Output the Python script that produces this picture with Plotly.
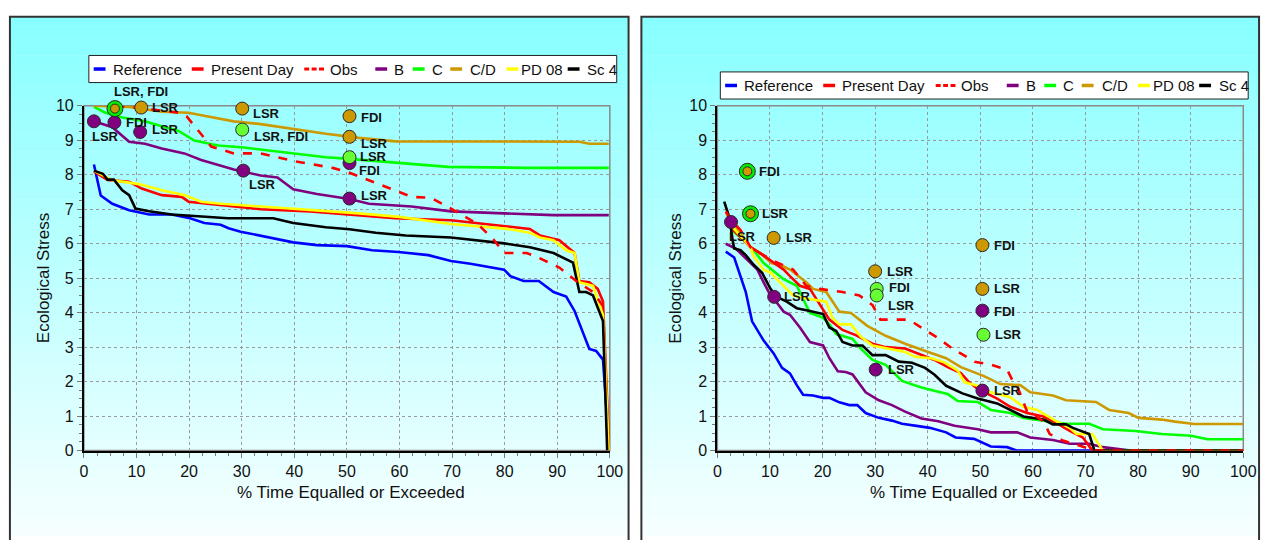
import plotly.graph_objects as go

W, H = 1276, 540

# ---------------- left panel: duration curves ----------------
L_REF_X = [1.9, 3.2, 5.4, 8.6, 12.4, 16.7, 19.9, 22.9, 26.0, 27.5, 29.8, 34.9, 39.8, 44.3, 50.0, 54.8,
           59.8, 65.5, 69.8, 73.5, 77.3, 79.9, 81.1, 83.6, 86.5, 89.3, 91.7, 93.3, 96.1, 97.4, 98.7, 99.9]
L_REF_Y = [8.3, 7.4, 7.16, 6.97, 6.85, 6.85, 6.75, 6.6, 6.55, 6.45, 6.35, 6.2, 6.04, 5.96, 5.93, 5.81,
           5.76, 5.67, 5.5, 5.42, 5.31, 5.25, 5.06, 4.92, 4.92, 4.6, 4.47, 4.05, 2.95, 2.89, 2.64, 0.0]

L_PD_X = [1.9, 4.5, 8.6, 11.0, 14.8, 18.6, 19.9, 26.1, 33.6, 43.0, 50.5, 59.2, 69.8, 79.2, 84.8, 86.7,
          90.4, 93.3, 94.2, 96.1, 97.7, 98.7, 99.9]
L_PD_Y = [8.1, 7.85, 7.8, 7.6, 7.41, 7.36, 7.22, 7.13, 7.0, 6.94, 6.85, 6.74, 6.68, 6.52, 6.43, 6.24,
          6.1, 5.73, 4.92, 4.88, 4.69, 4.33, 0.0]

L_PD08_X = [1.9, 5.4, 10.5, 14.8, 19.1, 22.3, 26.1, 33.6, 43.0, 52.3, 60.0, 69.8, 80.5, 84.8, 86.7,
            89.3, 91.7, 93.3, 94.2, 96.8, 98.7, 99.8]
L_PD08_Y = [8.12, 7.84, 7.73, 7.55, 7.41, 7.22, 7.16, 7.08, 7.0, 6.88, 6.78, 6.57, 6.43, 6.32, 6.18,
            6.1, 5.81, 5.73, 4.88, 4.78, 3.93, 0.0]

L_SC4_X = [1.9, 3.6, 4.5, 5.7, 7.3, 8.6, 9.8, 12.4, 16.7, 21.0, 27.4, 36.0, 39.8, 46.0, 50.5, 55.5,
           61.2, 69.8, 74.9, 79.9, 84.8, 89.3, 93.0, 94.2, 95.5, 96.8, 98.7, 99.5]
L_SC4_Y = [8.12, 8.03, 7.86, 7.86, 7.55, 7.41, 7.02, 6.94, 6.85, 6.8, 6.74, 6.74, 6.6, 6.48, 6.42, 6.32,
           6.24, 6.18, 6.1, 6.01, 5.9, 5.73, 5.45, 4.6, 4.6, 4.5, 3.76, 0.0]

L_OBS_X = [6.0, 10.5, 18.0, 19.5, 24.2, 28.5, 33.6, 39.8, 47.3, 50.5, 56.1, 62.3, 66.0, 69.8, 74.9,
           78.0, 79.9, 84.2, 86.1, 90.4, 93.6, 96.8, 99.6]
L_OBS_Y = [10.0, 9.94, 9.8, 9.7, 8.82, 8.62, 8.62, 8.4, 8.2, 8.06, 7.73, 7.36, 7.33, 7.02, 6.57,
           6.1, 5.73, 5.73, 5.62, 5.31, 4.92, 4.6, 4.0]

L_B_X = [1.9, 5.4, 8.6, 11.6, 14.8, 19.1, 22.3, 25.5, 28.5, 33.6, 36.8, 39.8, 44.3, 50.5, 54.2, 62.3,
         69.8, 79.9, 89.3, 99.8]
L_B_Y = [9.55, 9.38, 8.96, 8.9, 8.76, 8.62, 8.43, 8.29, 8.15, 7.98, 7.92, 7.58, 7.44, 7.3, 7.16, 7.08,
         6.94, 6.88, 6.83, 6.83]

L_C_X = [1.9, 4.1, 7.3, 11.6, 14.8, 18.0, 21.0, 25.5, 30.4, 34.9, 39.8, 46.0, 50.5, 55.5, 59.2, 69.2,
         84.2, 99.8]
L_C_Y = [9.97, 9.8, 9.66, 9.55, 9.41, 9.27, 8.99, 8.85, 8.79, 8.71, 8.62, 8.51, 8.46, 8.4, 8.34, 8.23,
         8.2, 8.2]

L_CD_X = [1.8, 8.6, 14.8, 19.9, 23.6, 28.5, 33.6, 39.8, 46.0, 52.3, 59.2, 94.2, 96.1, 99.8]
L_CD_Y = [10.0, 9.97, 9.83, 9.8, 9.69, 9.55, 9.47, 9.33, 9.19, 9.07, 8.97, 8.96, 8.9, 8.9]

# left panel point assessments
L_MK_X = [5.9, 10.9, 1.9, 5.8, 10.7, 30.1, 30.1, 30.3, 50.5, 50.5, 50.5, 50.5, 50.5]
L_MK_Y = [9.92, 9.95, 9.55, 9.52, 9.24, 9.92, 9.31, 8.12, 9.7, 9.1, 8.51, 8.34, 7.31]
L_MK_KIND = ["C+C/D", "C/D", "B", "B", "B", "C/D", "C", "B", "C/D", "C/D", "C", "B", "B"]
L_MK_TEXT = ["LSR, FDI", "LSR", "LSR", "FDI", "LSR", "LSR", "LSR, FDI", "LSR", "FDI", "LSR", "LSR", "FDI", "LSR"]

# ---------------- right panel: duration curves ----------------
R_REF_X = [1.6, 3.2, 5.4, 6.6, 8.8, 10.7, 12.3, 13.8, 15.1, 16.3, 18.2, 20.1, 21.3, 23.2, 25.1, 26.6,
           28.2, 30.7, 33.2, 35.1, 38.2, 40.4, 43.5, 45.3, 48.8, 52.0, 55.1, 57.0, 100]
R_REF_Y = [5.77, 5.6, 4.6, 3.75, 3.19, 2.82, 2.4, 2.24, 1.9, 1.62, 1.6, 1.53, 1.53, 1.4, 1.32, 1.32,
           1.09, 0.95, 0.87, 0.78, 0.71, 0.66, 0.53, 0.38, 0.34, 0.12, 0.1, 0.0, 0.0]

R_PD_X = [1.9, 2.9, 4.4, 6.3, 8.2, 10.7, 12.6, 13.8, 15.7, 17.6, 19.5, 21.3, 23.8, 26.3, 29.5, 32.0,
          35.7, 38.2, 41.3, 43.8, 46.3, 47.9, 49.5, 53.2, 55.7, 58.9, 62.0, 64.5, 67.0, 69.5, 71.3, 100]
R_PD_Y = [6.8, 6.42, 6.19, 5.9, 5.72, 5.44, 5.25, 5.06, 4.78, 4.69, 4.25, 3.8, 3.5, 3.35, 3.1, 3.0,
          2.96, 2.82, 2.63, 2.42, 2.25, 1.98, 1.79, 1.51, 1.27, 1.09, 0.99, 0.8, 0.57, 0.38, 0.0, 0.0]

R_PD08_X = [1.9, 4.1, 6.3, 6.9, 8.8, 10.1, 12.6, 14.4, 16.9, 20.7, 21.9, 23.2, 25.4, 27.3, 29.5, 32.6,
            35.7, 37.6, 40.7, 43.2, 45.7, 47.0, 49.5, 52.0, 55.7, 58.2, 60.8, 64.5, 67.0, 68.3, 71.3, 73.3, 100]
R_PD08_Y = [6.65, 6.29, 5.9, 5.63, 5.25, 5.16, 4.78, 4.5, 4.41, 4.32, 3.85, 3.66, 3.66, 3.3, 3.05, 2.96,
            2.86, 2.72, 2.68, 2.56, 2.32, 1.98, 1.88, 1.69, 1.55, 1.27, 1.18, 0.85, 0.66, 0.48, 0.48, 0.0, 0.0]

R_SC4_X = [1.3, 2.3, 2.9, 3.2, 4.4, 5.4, 6.9, 8.5, 10.1, 11.3, 13.2, 15.1, 17.6, 20.1, 21.3, 22.6,
           23.8, 25.7, 27.6, 29.5, 32.0, 34.5, 37.0, 39.5, 41.3, 43.5, 46.6, 49.5, 53.2, 55.7, 58.2,
           62.0, 63.8, 66.3, 67.6, 70.7, 71.7, 100]
R_SC4_Y = [7.22, 6.75, 6.1, 5.86, 5.81, 5.67, 5.39, 5.16, 4.69, 4.46, 4.32, 4.13, 4.05, 3.96, 3.57, 3.47,
           3.15, 3.05, 3.05, 2.77, 2.77, 2.58, 2.55, 2.4, 2.2, 1.88, 1.66, 1.51, 1.37, 1.18, 0.99,
           0.9, 0.76, 0.76, 0.66, 0.48, 0.0, 0.0]

R_OBS_X = [1.6, 2.8, 4.4, 6.3, 8.2, 10.7, 14.4, 16.9, 19.5, 23.8, 27.0, 29.5, 31.0, 36.4, 39.5, 42.0,
           44.5, 48.9, 52.0, 55.1, 56.3, 57.0, 58.9, 60.1, 62.0, 63.2, 65.7, 70.1, 72.0, 100]
R_OBS_Y = [6.94, 6.65, 6.4, 5.9, 5.72, 5.5, 5.25, 4.78, 4.69, 4.6, 4.5, 4.22, 3.8, 3.8, 3.5, 3.26,
           2.98, 2.58, 2.49, 2.35, 1.98, 1.88, 1.13, 1.04, 0.85, 0.48, 0.29, 0.1, 0.0, 0.0]

R_B_X = [1.6, 3.5, 5.7, 7.6, 8.8, 10.1, 10.7, 12.6, 13.8, 15.7, 17.6, 20.1, 21.3, 22.9, 24.4, 25.7,
         28.2, 30.7, 33.2, 35.7, 38.8, 42.0, 45.1, 49.5, 52.0, 57.0, 59.5, 63.8, 67.0, 70.7, 73.3, 78.2, 80.0, 100]
R_B_Y = [6.0, 5.86, 5.53, 5.25, 4.88, 4.5, 4.41, 4.03, 3.94, 3.57, 3.15, 3.05, 2.68, 2.3, 2.28, 2.21,
         1.69, 1.46, 1.32, 1.13, 0.93, 0.85, 0.72, 0.62, 0.53, 0.53, 0.38, 0.31, 0.2, 0.2, 0.1, 0.01, 0.0, 0.0]

R_C_X = [1.6, 3.2, 5.1, 6.9, 8.8, 10.7, 12.6, 15.1, 16.3, 17.6, 19.5, 20.1, 21.3, 22.6, 25.7, 27.6,
         29.5, 32.0, 35.1, 38.8, 42.0, 43.8, 45.7, 49.5, 52.0, 55.7, 58.2, 60.8, 66.3, 70.7, 73.3, 79.5,
         84.5, 90.1, 93.2, 100]
R_C_Y = [6.65, 6.33, 6.1, 5.81, 5.44, 5.2, 4.97, 4.78, 4.41, 3.99, 3.89, 3.85, 3.66, 3.38, 3.24, 2.91,
         2.63, 2.49, 2.02, 1.83, 1.71, 1.64, 1.44, 1.41, 1.18, 1.09, 0.95, 0.9, 0.78, 0.78, 0.62, 0.57,
         0.48, 0.43, 0.33, 0.33]

R_CD_X = [1.6, 4.4, 6.3, 8.2, 10.3, 12.6, 13.8, 16.9, 18.2, 20.7, 23.2, 25.4, 27.0, 28.5, 32.0, 35.7,
          40.1, 43.5, 46.3, 50.7, 53.8, 57.6, 59.5, 63.8, 66.3, 72.0, 74.5, 78.2, 80.1, 84.5, 87.0, 90.7, 100]
R_CD_Y = [6.9, 6.3, 5.9, 5.72, 5.44, 5.34, 5.25, 4.88, 4.69, 4.6, 4.03, 3.99, 3.8, 3.62, 3.33, 3.1,
          2.86, 2.68, 2.42, 2.16, 1.93, 1.9, 1.69, 1.6, 1.46, 1.41, 1.18, 1.09, 0.95, 0.9, 0.84, 0.77, 0.77]

# right panel point assessments
R_MK_X = [5.7, 6.3, 2.6, 10.7, 10.8, 30.0, 30.3, 30.3, 30.1, 50.4, 50.4, 50.4, 50.6, 50.4]
R_MK_Y = [8.1, 6.87, 6.63, 6.17, 4.46, 5.2, 4.69, 4.5, 2.35, 5.96, 4.69, 4.06, 3.36, 1.74]
R_MK_KIND = ["C+C/D", "C+C/D", "B", "C/D", "B", "C/D", "C", "C", "B", "C/D", "C/D", "B", "C", "B"]
R_MK_TEXT = ["FDI", "LSR", "LSR", "LSR", "LSR", "LSR", "FDI", "LSR", "LSR", "FDI", "LSR", "FDI", "LSR", "LSR"]

SERIES_NAMES = ["Reference", "Present Day", "Obs", "B", "C", "C/D", "PD 08", "Sc 4"]
X_TICKS = [0, 10, 20, 30, 40, 50, 60, 70, 80, 90, 100]
Y_TICKS = [0, 1, 2, 3, 4, 5, 6, 7, 8, 9, 10]
X_TITLE = "% Time Equalled or Exceeded"
Y_TITLE = "Ecological Stress"

# ---------------- styling ----------------
LINE_COLOR = {"Reference": "#0000FF", "Present Day": "#FF0000", "Obs": "#FF0000", "B": "#800080",
              "C": "#00FF00", "C/D": "#CC9900", "PD 08": "#FFFF00", "Sc 4": "#000000"}
MARK_COLOR = {"B": "#800080", "C": "#66FF33", "C/D": "#CC9900"}
FONT = "Liberation Sans, Arial, sans-serif"

# label offsets in pixels (dx right, dy up) next to each point
L_LBL_OFF = [(-3, 17), (9, 0), (-4, -15), (10, 0), (10, 3), (9, -5), (10, -7), (4, -14),
             (9, -1), (9, -7), (8, 1), (7, -7), (9, 3)]
R_LBL_OFF = [(10, 0), (10, 0), (-4, -14), (10, 0), (8, 0), (10, 0), (10, 1), (9, -10),
             (10, 0), (10, 0), (10, 0), (10, -1), (10, 0), (10, 0)]

left_series = {"Reference": (L_REF_X, L_REF_Y), "Present Day": (L_PD_X, L_PD_Y), "Obs": (L_OBS_X, L_OBS_Y),
               "B": (L_B_X, L_B_Y), "C": (L_C_X, L_C_Y), "C/D": (L_CD_X, L_CD_Y),
               "PD 08": (L_PD08_X, L_PD08_Y), "Sc 4": (L_SC4_X, L_SC4_Y)}
right_series = {"Reference": (R_REF_X, R_REF_Y), "Present Day": (R_PD_X, R_PD_Y), "Obs": (R_OBS_X, R_OBS_Y),
                "B": (R_B_X, R_B_Y), "C": (R_C_X, R_C_Y), "C/D": (R_CD_X, R_CD_Y),
                "PD 08": (R_PD08_X, R_PD08_Y), "Sc 4": (R_SC4_X, R_SC4_Y)}

DRAW_ORDER = ["Reference", "B", "C", "C/D", "Present Day", "PD 08", "Sc 4", "Obs"]


def px(xp):
    return xp / W


def py(yp):
    return 1 - yp / H


fig = go.Figure()
annotations = []
shapes = []

panels = [
    dict(xa="x", ya="y", series=left_series, mx=L_MK_X, my=L_MK_Y, mk=L_MK_KIND, mt=L_MK_TEXT,
         off=L_LBL_OFF, frame=(6, 633), legend=(86, 49), xt=352, yt=39.5),
    dict(xa="x2", ya="y2", series=right_series, mx=R_MK_X, my=R_MK_Y, mk=R_MK_KIND, mt=R_MK_TEXT,
         off=R_LBL_OFF, frame=(646, 1272), legend=(726, 66), xt=993, yt=680.5),
]

PLOT_TOP, PLOT_BOT = 101, 457

for p in panels:
    # duration curves
    for name in DRAW_ORDER:
        xs, ys = p["series"][name]
        fig.add_trace(go.Scatter(
            x=xs, y=ys, mode="lines", name=name, xaxis=p["xa"], yaxis=p["ya"],
            showlegend=False, cliponaxis=False,
            line=dict(color=LINE_COLOR[name], width=2.6, dash="dash" if name == "Obs" else "solid"),
        ))

    # point assessments
    for kind in ["B", "C/D", "C", "C+C/D"]:
        idx = [i for i, k in enumerate(p["mk"]) if k == kind]
        if not idx:
            continue
        xs = [p["mx"][i] for i in idx]
        ys = [p["my"][i] for i in idx]
        if kind == "C+C/D":
            fig.add_trace(go.Scatter(x=xs, y=ys, mode="markers", xaxis=p["xa"], yaxis=p["ya"],
                                     showlegend=False, cliponaxis=False,
                                     marker=dict(size=16, color="#00EE00", line=dict(color="#2a2a2a", width=1))))
            fig.add_trace(go.Scatter(x=xs, y=ys, mode="markers", xaxis=p["xa"], yaxis=p["ya"],
                                     showlegend=False, cliponaxis=False,
                                     marker=dict(size=9, color=MARK_COLOR["C/D"], line=dict(color="#2a2a2a", width=1))))
        else:
            fig.add_trace(go.Scatter(x=xs, y=ys, mode="markers", xaxis=p["xa"], yaxis=p["ya"],
                                     showlegend=False, cliponaxis=False,
                                     marker=dict(size=13, color=MARK_COLOR[kind], line=dict(color="#2a2a2a", width=1))))

    for x, y, t, (dx, dy) in zip(p["mx"], p["my"], p["mt"], p["off"]):
        annotations.append(dict(x=x, y=y, xref=p["xa"], yref=p["ya"], text="<b>%s</b>" % t,
                                showarrow=False, xanchor="left", yanchor="middle", xshift=dx, yshift=dy,
                                font=dict(family=FONT, size=13, color="#111111")))

    # panel background gradient (cyan to near white)
    f0, f1 = p["frame"]
    n_bands = 54
    top, bot = 9, 545
    for b in range(n_bands):
        t = b / (n_bands - 1)
        r = int(round(136 + (246 - 136) * t))
        y0 = top + (bot - top) * b / n_bands
        y1 = top + (bot - top) * (b + 1) / n_bands
        shapes.append(dict(type="rect", xref="paper", yref="paper", x0=px(f0), x1=px(f1),
                           y0=py(y1 + 0.5), y1=py(y0), fillcolor="rgb(%d,255,255)" % r,
                           line=dict(width=0), layer="below"))
    # panel frame
    shapes.append(dict(type="rect", xref="paper", yref="paper", x0=px(f0), x1=px(f1), y0=py(560), y1=py(9),
                       line=dict(color="#333333", width=2), fillcolor="rgba(0,0,0,0)", layer="above"))
    # plot-area border
    shapes.append(dict(type="rect", xref=p["xa"] + " domain", yref=p["ya"] + " domain", x0=0, x1=1, y0=0, y1=1,
                       line=dict(color="#8a8a8a", width=1.5), layer="below"))

    # legend box with short line samples
    lx, ly = p["legend"]
    shapes.append(dict(type="rect", xref="paper", yref="paper", x0=px(lx), x1=px(lx + 535),
                       y0=py(ly + 28), y1=py(ly), fillcolor="white", line=dict(color="#222222", width=1),
                       layer="above"))
    sample_off = [4.9, 104.3, 218.3, 290.3, 328.3, 366.3, 423.3, 485.3]
    text_off = [24.3, 123.3, 244.3, 309.3, 347.3, 386.3, 438.3, 505.3]
    yc = ly + 14
    for name, so, to in zip(SERIES_NAMES, sample_off, text_off):
        if name == "Obs":
            for k in range(3):
                shapes.append(dict(type="line", xref="paper", yref="paper",
                                   x0=px(lx + so + k * 7.5), x1=px(lx + so + k * 7.5 + 5),
                                   y0=py(yc), y1=py(yc), line=dict(color=LINE_COLOR[name], width=3),
                                   layer="above"))
        else:
            shapes.append(dict(type="line", xref="paper", yref="paper", x0=px(lx + so), x1=px(lx + so + 12),
                               y0=py(yc), y1=py(yc), line=dict(color=LINE_COLOR[name], width=3.5),
                               layer="above"))
        annotations.append(dict(x=px(lx + to - 2), y=py(yc), xref="paper", yref="paper", text=name,
                                showarrow=False, xanchor="left", yanchor="middle",
                                font=dict(family=FONT, size=15, color="#111111")))

    # axis titles
    annotations.append(dict(x=px(p["xt"]), y=py(500), xref="paper", yref="paper", text=X_TITLE,
                            showarrow=False, xanchor="center", yanchor="middle",
                            font=dict(family=FONT, size=17, color="#111111")))
    annotations.append(dict(x=px(p["yt"]), y=py(279), xref="paper", yref="paper", text=Y_TITLE,
                            showarrow=False, xanchor="center", yanchor="middle", textangle=-90,
                            font=dict(family=FONT, size=17, color="#111111")))

axis_common = dict(
    showline=True, linecolor="#000000", linewidth=2, ticks="outside", ticklen=5, tickwidth=1,
    tickcolor="#7a7a7a", showgrid=True, gridcolor="#9a9a9a", griddash="dot", gridwidth=1,
    zeroline=False, tickfont=dict(family=FONT, size=16, color="#111111"), layer="below traces",
    fixedrange=True,
)
ydom = [1 - PLOT_BOT / H, 1 - PLOT_TOP / H]
fig.update_layout(
    width=W, height=H, autosize=False, margin=dict(l=0, r=0, t=0, b=0),
    paper_bgcolor="white", plot_bgcolor="rgba(0,0,0,0)", showlegend=False,
    xaxis=dict(domain=[81 / W, 614 / W], anchor="y", range=[0, 100], tickvals=X_TICKS,
               minor=dict(dtick=2.5, ticks="outside", ticklen=3, tickcolor="#7a7a7a", showgrid=False),
               **axis_common),
    yaxis=dict(domain=ydom, anchor="x", range=[0, 10], tickvals=Y_TICKS,
               minor=dict(dtick=0.25, ticks="outside", ticklen=3, tickcolor="#7a7a7a", showgrid=False),
               **axis_common),
    xaxis2=dict(domain=[723 / W, 1256 / W], anchor="y2", range=[0, 100], tickvals=X_TICKS,
                minor=dict(dtick=2.5, ticks="outside", ticklen=3, tickcolor="#7a7a7a", showgrid=False),
                **axis_common),
    yaxis2=dict(domain=ydom, anchor="x2", range=[0, 10], tickvals=Y_TICKS,
                minor=dict(dtick=0.25, ticks="outside", ticklen=3, tickcolor="#7a7a7a", showgrid=False),
                **axis_common),
    shapes=shapes, annotations=annotations,
)

fig.write_html("out.html")
